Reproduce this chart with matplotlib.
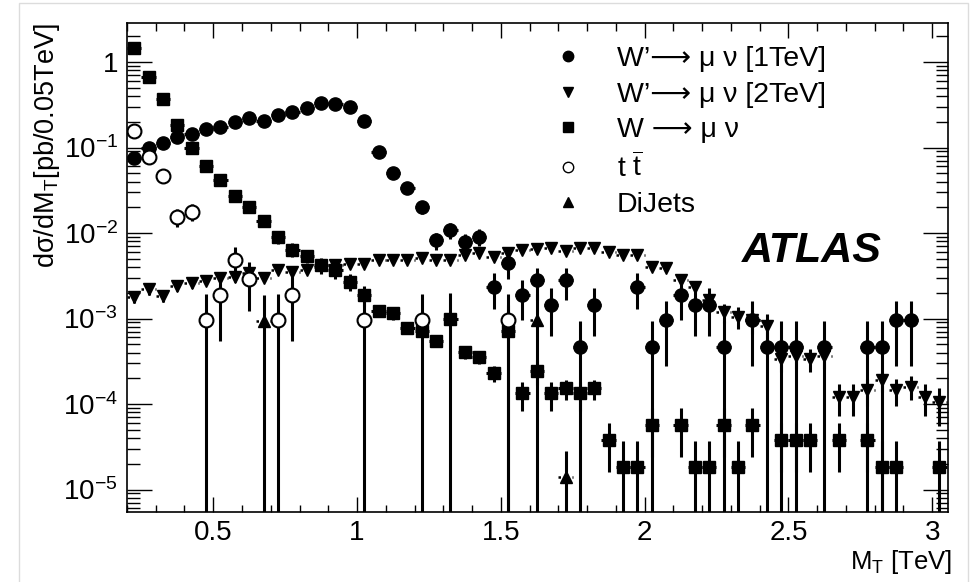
import numpy as np
import matplotlib
matplotlib.use("Agg")
import matplotlib.pyplot as plt
from matplotlib.lines import Line2D
from matplotlib.patches import Rectangle
from matplotlib.ticker import MultipleLocator, LogLocator, FuncFormatter, NullFormatter

plt.rcParams['font.family'] = ['Liberation Sans', 'DejaVu Sans']
plt.rcParams['mathtext.fontset'] = 'custom'
plt.rcParams['mathtext.rm'] = 'Liberation Sans'
plt.rcParams['mathtext.it'] = 'Liberation Sans:italic'
plt.rcParams['mathtext.bf'] = 'Liberation Sans:bold'

nan = np.nan

# bin centres of the 0.05 TeV bins, 0.2 .. 3.05 TeV
mt = np.round(0.225 + 0.05 * np.arange(57), 3)
half_bin = 0.025

# W' -> mu nu [1 TeV]
wp1 = [0.075, 0.100, 0.114, 0.131, 0.143, 0.164, 0.172, 0.200, 0.219, 0.206,
       0.240, 0.262, 0.287, 0.329, 0.320, 0.300, 0.206, 0.089, 0.051, 0.034,
       0.0204, 0.0082, 0.0108, 0.0078, 0.0091, 0.00235, 0.0044, 0.0019, 0.0028, 0.00144,
       0.0028, 0.00047, 0.00144, nan, nan, 0.00235, 0.00047, 0.00095, 0.0019, 0.00144,
       0.00144, 0.00047, nan, 0.00095, 0.00047, 0.00047, 0.00047, nan, 0.00047, nan,
       nan, 0.00047, 0.00047, 0.00095, 0.00095, nan, nan]
wp1_err = [0.007, 0.008, 0.009, 0.009, 0.010, 0.010, 0.011, 0.011, 0.012, 0.011,
           0.012, 0.013, 0.013, 0.014, 0.014, 0.014, 0.011, 0.0075, 0.0055, 0.0045,
           0.0035, 0.0019, 0.0022, 0.0019, 0.0020, 0.00105, 0.0015, 0.00095, 0.00115, 0.00082,
           0.00115, 0.00047, 0.00082, nan, nan, 0.00105, 0.00047, 0.00067, 0.00095, 0.00082,
           0.00082, 0.00047, nan, 0.00067, 0.00047, 0.00047, 0.00047, nan, 0.00047, nan,
           nan, 0.00047, 0.00047, 0.00067, 0.00067, nan, nan]

# W' -> mu nu [2 TeV]
wp2 = [0.0018, 0.0022, 0.00185, 0.0024, 0.0026, 0.00275, 0.0030, 0.0031, 0.0034, 0.0030,
       0.0037, 0.0035, 0.0037, 0.0040, 0.0042, 0.0043, 0.0043, 0.0048, 0.0048, 0.0048,
       0.0051, 0.0048, 0.0048, 0.0055, 0.0058, 0.0053, 0.0058, 0.0063, 0.0065, 0.0066,
       0.0062, 0.0067, 0.0067, 0.0060, 0.0055, 0.0055, 0.0040, 0.0039, 0.0028, 0.00235,
       0.00164, 0.00118, 0.00105, 0.00096, 0.00082, 0.00034, 0.00036, 0.00034, 0.00036, 0.000122,
       0.000122, 0.000146, 0.00019, 0.000146, 0.00016, 0.000122, 0.000106]
wp2_err = [0.0003] * 13 + [0.0004] * 23 + [0.0003] * 9 + [0.0001] * 4 + [0.00005] * 8

# W -> mu nu
wmu = [1.47, 0.67, 0.366, 0.183, 0.100, 0.0614, 0.0417, 0.0274, 0.0199, 0.0139,
       0.0089, 0.0064, 0.0054, 0.0042, 0.0037, 0.0027, 0.0019, 0.00123, 0.00117, 0.00078,
       0.00071, 0.00055, 0.00099, 0.00041, 0.00035, 0.00023, 0.00071, 0.000133, 0.000245, 0.000133,
       0.000152, 0.000133, 0.000152, 3.8e-5, 1.85e-5, 1.85e-5, 5.7e-5, nan, 5.7e-5, 1.85e-5,
       1.85e-5, 5.7e-5, 1.85e-5, 5.7e-5, nan, 3.8e-5, 3.8e-5, 3.8e-5, nan, 3.8e-5,
       nan, 3.8e-5, 1.85e-5, 1.85e-5, nan, nan, 1.85e-5]
wmu_err = [0.03, 0.02, 0.015, 0.01, 0.007, 0.005, 0.004, 0.003, 0.0025, 0.002,
           0.0015, 0.0012, 0.001, 0.0009, 0.0008, 0.0006, 0.0005, 0.0002, 0.0002, 0.00012,
           0.0001, 0.00008, 0.00099, 0.00007, 0.00006, 0.00005, 0.00071, 0.00005, 0.00008, 0.00005,
           0.00004, 0.00005, 0.00004, 2.2e-5, 1.85e-5, 1.85e-5, 3.3e-5, nan, 3.3e-5, 1.85e-5,
           1.85e-5, 3.3e-5, 1.85e-5, 3.3e-5, nan, 2.2e-5, 2.2e-5, 2.2e-5, nan, 2.2e-5,
           nan, 2.2e-5, 1.85e-5, 1.85e-5, nan, nan, 1.85e-5]

# t tbar
tt = [0.156, 0.078, 0.0465, 0.0155, 0.0178, 0.00096, 0.0019, 0.0048, 0.0029, nan,
      0.00096, 0.0019, nan, nan, nan, nan, 0.00096, nan, nan, nan,
      0.00096, nan, nan, nan, nan, nan, 0.00096] + [nan] * 30
tt_err = [0.012, 0.009, 0.007, 0.0038, 0.0041, 0.00096, 0.00136, 0.00215, 0.00166, nan,
          0.00096, 0.00136, nan, nan, nan, nan, 0.00096, nan, nan, nan,
          0.00096, nan, nan, nan, nan, nan, 0.00096] + [nan] * 30

# DiJets
dj = [nan] * 9 + [0.00093] + [nan] * 18 + [0.00096, nan, 1.4e-5] + [nan] * 26
dj_err = list(dj)

fig = plt.figure(figsize=(9.73, 5.82), dpi=100)
ax = fig.add_axes([0.1305, 0.1203, 0.8438, 0.8402])
ax.set_yscale('log')

ebkw = dict(color='k', ecolor='k', elinewidth=2.2, capsize=0, linestyle='none')

# W' 2 TeV: dotted bin-width bars + solid vertical errors
dot = ax.errorbar(mt, wp2, xerr=half_bin, fmt='none', ecolor='k', elinewidth=1.8)
dot[2][0].set_linestyle((0, (1, 1.8)))
ax.errorbar(mt, wp2, yerr=wp2_err, fmt='v', ms=9, **ebkw)

ax.errorbar(mt, wmu, xerr=half_bin, yerr=wmu_err, fmt='s', ms=8.3, **ebkw)
ax.errorbar(mt, wp1, xerr=half_bin, yerr=wp1_err, fmt='o', ms=9.5, **ebkw)

dot = ax.errorbar(mt, dj, xerr=half_bin, fmt='none', ecolor='k', elinewidth=1.8)
dot[2][0].set_linestyle((0, (1, 1.8)))
ax.errorbar(mt, dj, yerr=dj_err, fmt='^', ms=9, **ebkw)

ax.errorbar(mt, tt, yerr=tt_err, fmt='o', ms=10, mfc='white', mec='k', mew=1.5, **ebkw)

ax.set_xlim(0.2, 3.055)
ax.set_ylim(5.46e-6, 2.86)

ax.xaxis.set_major_locator(MultipleLocator(0.5))
ax.xaxis.set_minor_locator(MultipleLocator(0.1))
ax.xaxis.set_major_formatter(FuncFormatter(lambda v, p: '%g' % v))
ax.yaxis.set_major_locator(LogLocator(base=10, numticks=20))
ax.yaxis.set_minor_locator(LogLocator(base=10, subs=np.arange(2, 10), numticks=20))
ax.yaxis.set_minor_formatter(NullFormatter())


def ylab(v, p):
    e = int(round(np.log10(v)))
    if e == 0:
        return '1'
    return r'$10^{\mathrm{-%d}}$' % (-e)


ax.yaxis.set_major_formatter(FuncFormatter(ylab))

ax.tick_params(axis='both', which='both', direction='in', top=True, right=True,
               labelsize=20, colors='k', width=1)
ax.tick_params(axis='x', which='major', length=10.8, pad=5.5)
ax.tick_params(axis='x', which='minor', length=5.4)
ax.tick_params(axis='y', which='major', length=18, pad=6.5)
ax.tick_params(axis='y', which='minor', length=9)
for s in ax.spines.values():
    s.set_linewidth(1.2)

ax.set_ylabel(r'dσ/dM$_\mathrm{T}$[pb/0.05TeV]', fontsize=19.5, loc='top')
ax.yaxis.set_label_coords(-0.079, 1.0)
ax.set_xlabel(r'M$_\mathrm{T}$ [TeV]', fontsize=18.5, loc='right')
ax.xaxis.set_label_coords(1.005, -0.074)

ax.text(0.749, 0.511, 'ATLAS', transform=ax.transAxes, fontsize=31,
        fontweight='bold', fontstyle='italic', va='baseline')

handles = [
    Line2D([], [], ls='none', marker='o', ms=7.5, color='k'),
    Line2D([], [], ls='none', marker='v', ms=7.5, color='k'),
    Line2D([], [], ls='none', marker='s', ms=7.5, color='k'),
    Line2D([], [], ls='none', marker='o', ms=7.5, mfc='white', mec='k', mew=1),
    Line2D([], [], ls='none', marker='^', ms=7.5, color='k'),
]
labels = ['W’⟶ μ ν [1TeV]', 'W’⟶ μ ν [2TeV]', 'W ⟶ μ ν',
          r't $\overline{\mathrm{t}}$', 'DiJets']
ax.legend(handles, labels, loc='upper left', bbox_to_anchor=(0.52, 0.952),
          frameon=False, fontsize=20.5, handlelength=1.0, handletextpad=1.2,
          labelspacing=0.33, borderpad=0, borderaxespad=0)

fig.add_artist(Rectangle((0.0195, -0.01), 0.9755, 1.005, fill=False,
                         ec='#dcdcdc', lw=1, transform=fig.transFigure))

fig.savefig('out.png', dpi=100)
